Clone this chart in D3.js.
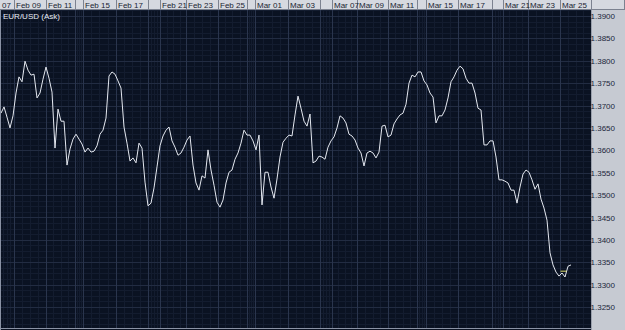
<!DOCTYPE html>
<html>
<head>
<meta charset="utf-8">
<script src="https://cdn.jsdelivr.net/npm/d3@7"></script>
<style>
  html, body { margin: 0; padding: 0; background: #0a1222; }
  svg { display: block; }
</style>
</head>
<body>
<div id="chart"></div>
<script>
// EUR/USD (Ask), one value per bar
const askPrices = [
	1.3683, 1.3697, 1.3674, 1.3650, 1.3677, 1.3728, 1.3764, 1.3753, 1.3799, 1.3779,
	1.3768, 1.3770, 1.3717, 1.3728, 1.3759, 1.3786, 1.3761, 1.3730, 1.3605, 1.3692,
	1.3665, 1.3665, 1.3567, 1.3603, 1.3625, 1.3636, 1.3625, 1.3614, 1.3596, 1.3605,
	1.3596, 1.3598, 1.3610, 1.3636, 1.3645, 1.3672, 1.3766, 1.3775, 1.3770, 1.3755,
	1.3739, 1.3652, 1.3616, 1.3576, 1.3583, 1.3572, 1.3616, 1.3605, 1.3529, 1.3476,
	1.3482, 1.3516, 1.3563, 1.3610, 1.3632, 1.3645, 1.3652, 1.3621, 1.3607, 1.3589,
	1.3594, 1.3607, 1.3623, 1.3632, 1.3567, 1.3527, 1.3511, 1.3543, 1.3538, 1.3601,
	1.3556, 1.3522, 1.3484, 1.3473, 1.3489, 1.3527, 1.3551, 1.3556, 1.3580, 1.3594,
	1.3616, 1.3645, 1.3634, 1.3634, 1.3621, 1.3601, 1.3634, 1.3478, 1.3551, 1.3551,
	1.3518, 1.3493, 1.3536, 1.3585, 1.3618, 1.3627, 1.3634, 1.3632, 1.3679, 1.3721,
	1.3694, 1.3665, 1.3654, 1.3681, 1.3572, 1.3576, 1.3587, 1.3585, 1.3580, 1.3607,
	1.3621, 1.3630, 1.3650, 1.3677, 1.3672, 1.3661, 1.3636, 1.3632, 1.3623, 1.3605,
	1.3594, 1.3565, 1.3594, 1.3598, 1.3594, 1.3583, 1.3596, 1.3654, 1.3656, 1.3630,
	1.3634, 1.3659, 1.3670, 1.3679, 1.3683, 1.3703, 1.3750, 1.3768, 1.3764, 1.3775,
	1.3775, 1.3755, 1.3746, 1.3728, 1.3719, 1.3661, 1.3677, 1.3677, 1.3690, 1.3717,
	1.3753, 1.3764, 1.3779, 1.3788, 1.3782, 1.3761, 1.3750, 1.3750, 1.3728, 1.3694,
	1.3690, 1.3612, 1.3612, 1.3621, 1.3621, 1.3585, 1.3534, 1.3534, 1.3531, 1.3527,
	1.3511, 1.3511, 1.3482, 1.3518, 1.3547, 1.3556, 1.3551, 1.3534, 1.3513, 1.3525,
	1.3491, 1.3471, 1.3444, 1.3371, 1.3344, 1.3328, 1.3319, 1.3326, 1.3317, 1.3341,
	1.3344
];

// date header cells: label and the bar index where the cell starts
const dayLabels = ["07", "Feb 09", "Feb 11", "", "Feb 15", "Feb 17", "", "Feb 21", "Feb 23", "Feb 25",
	"", "Mar 01", "Mar 03", "", "Mar 07", "Mar 09", "Mar 11", "", "Mar 15", "Mar 17", "",
	"Mar 21", "Mar 23", "Mar 25"];
const dayStarts = [-0.4, 4.3, 15, 24.7, 27.3, 38.3, 49, 53, 61.7, 72.3,
	82, 84.7, 95.7, 106.3, 110.3, 118.7, 129, 138.7, 141.7, 152.3, 163.7,
	167.3, 175.7, 186.3];
const lastBarEdge = 196.7;

const priceTicks = [1.3900, 1.3850, 1.3800, 1.3750, 1.3700, 1.3650, 1.3600,
	1.3550, 1.3500, 1.3450, 1.3400, 1.3350, 1.3300, 1.3250];
const bidMarker = { from: 186.5, to: 188.5, price: 1.3330 };

const width = 625;
const height = 330;
const headerH = 10;
const plot = { left: 1, right: 591, top: headerH, bottom: 328 };

const colors = {
	bg: "#0a1222",
	minorGrid: "#131c2f",
	majorGrid: "#222c42",
	dayGrid: "#2a354d",
	line: "#e4e8f0",
	header: "#d6d9e0",
	headerBorder: "#7c8290",
	headerText: "#1a1f33",
	axisPanel: "#c6cad2",
	axisText: "#20263a",
	marker: "#e0e070"
};

const svg = d3.select("#chart")
	.append("svg")
	.attr("width", width)
	.attr("height", height)
	.style("font-family", "'Liberation Sans', Arial, sans-serif");

const x = d3.scaleLinear()
	.domain([0, askPrices.length - 1])
	.range([1, 571]);
const y = d3.scaleLinear()
	.domain([1.325, 1.39])
	.range([307, 16]);

// plot background
svg.append("rect")
	.attr("x", 0).attr("y", 0)
	.attr("width", width).attr("height", height)
	.attr("fill", colors.bg);

svg.append("clipPath").attr("id", "plotClip")
	.append("rect")
	.attr("x", plot.left).attr("y", plot.top)
	.attr("width", plot.right - plot.left).attr("height", plot.bottom - plot.top);

const grid = svg.append("g").attr("clip-path", "url(#plotClip)");

// minor horizontal grid
const minorPrices = d3.range(1.3200, 1.3960, 0.00125);
grid.append("g")
	.selectAll("line")
	.data(minorPrices)
	.enter()
	.append("line")
	.attr("x1", plot.left).attr("x2", plot.right)
	.attr("y1", (d) => Math.round(y(d)) + 0.5)
	.attr("y2", (d) => Math.round(y(d)) + 0.5)
	.attr("stroke", colors.minorGrid)
	.attr("stroke-width", 1);

// minor vertical grid: four per day cell
const cellEdges = dayStarts.concat([lastBarEdge]);
const minorX = [];
for (let i = 0; i < cellEdges.length - 1; i++) {
	const a = cellEdges[i], b = cellEdges[i + 1];
	for (let k = 1; k < 4; k++) minorX.push(a + (b - a) * k / 4);
}
grid.append("g")
	.selectAll("line")
	.data(minorX)
	.enter()
	.append("line")
	.attr("x1", (d) => Math.round(x(d)) + 0.5)
	.attr("x2", (d) => Math.round(x(d)) + 0.5)
	.attr("y1", plot.top).attr("y2", plot.bottom)
	.attr("stroke", colors.minorGrid)
	.attr("stroke-width", 1);

// major horizontal grid at labelled prices
grid.append("g")
	.selectAll("line")
	.data(priceTicks)
	.enter()
	.append("line")
	.attr("x1", plot.left).attr("x2", plot.right)
	.attr("y1", (d) => Math.round(y(d)) + 0.5)
	.attr("y2", (d) => Math.round(y(d)) + 0.5)
	.attr("stroke", colors.majorGrid)
	.attr("stroke-width", 1);

// day boundaries
grid.append("g")
	.selectAll("line")
	.data(dayStarts.slice(1))
	.enter()
	.append("line")
	.attr("x1", (d) => Math.round(x(d)) + 0.5)
	.attr("x2", (d) => Math.round(x(d)) + 0.5)
	.attr("y1", plot.top).attr("y2", plot.bottom)
	.attr("stroke", colors.dayGrid)
	.attr("stroke-width", 1);

// price line
const line = d3.line()
	.x((d, i) => x(i))
	.y((d) => y(d));

svg.append("path")
	.datum(askPrices)
	.attr("d", line)
	.attr("fill", "none")
	.attr("stroke", colors.line)
	.attr("stroke-width", 1)
	.attr("clip-path", "url(#plotClip)");

svg.append("line")
	.attr("x1", x(bidMarker.from)).attr("x2", x(bidMarker.to))
	.attr("y1", y(bidMarker.price)).attr("y2", y(bidMarker.price))
	.attr("stroke", colors.marker)
	.attr("stroke-width", 1);

// symbol title
svg.append("text")
	.attr("x", 3).attr("y", 19)
	.attr("fill", "#e8ecf4")
	.style("font-size", "8px")
	.text("EUR/USD (Ask)");

// plot frame
svg.append("line")
	.attr("x1", 0.5).attr("x2", 0.5).attr("y1", plot.top).attr("y2", height)
	.attr("stroke", "#8a92a4");
svg.append("line")
	.attr("x1", 0).attr("x2", plot.right).attr("y1", plot.bottom + 0.5).attr("y2", plot.bottom + 0.5)
	.attr("stroke", "#8a92a4");

// price axis panel
svg.append("rect")
	.attr("x", plot.right).attr("y", headerH)
	.attr("width", width - plot.right).attr("height", height - headerH)
	.attr("fill", colors.axisPanel);
svg.append("line")
	.attr("x1", plot.right + 0.5).attr("x2", plot.right + 0.5)
	.attr("y1", headerH).attr("y2", height)
	.attr("stroke", "#9aa0ac");

const yAxis = d3.axisRight(y)
	.tickValues(priceTicks)
	.tickFormat(d3.format(".4f"))
	.tickSize(0)
	.tickPadding(0);

const yAxisG = svg.append("g")
	.attr("transform", `translate(${width - 10}, 0)`)
	.call(yAxis);
yAxisG.select(".domain").remove();
yAxisG.selectAll("text")
	.attr("text-anchor", "end")
	.attr("fill", colors.axisText)
	.style("font-size", "8px")
	.style("font-family", "'Liberation Sans', Arial, sans-serif");

// date header
const header = svg.append("g");
header.append("rect")
	.attr("x", 0).attr("y", 0)
	.attr("width", width).attr("height", headerH)
	.attr("fill", colors.header);

const cells = dayLabels.map((label, i) => ({
	label: label,
	start: i === 0 ? 0 : Math.round(x(dayStarts[i])),
	end: Math.round(x(i + 1 < dayStarts.length ? dayStarts[i + 1] : lastBarEdge))
}));

header.selectAll("line.sep")
	.data(cells.map((c) => c.end).concat([width - 1]))
	.enter()
	.append("line")
	.attr("class", "sep")
	.attr("x1", (d) => d + 0.5).attr("x2", (d) => d + 0.5)
	.attr("y1", 0).attr("y2", headerH)
	.attr("stroke", colors.headerBorder);

header.append("line")
	.attr("x1", 0).attr("x2", width)
	.attr("y1", headerH - 0.5).attr("y2", headerH - 0.5)
	.attr("stroke", colors.headerBorder);

header.selectAll("text")
	.data(cells)
	.enter()
	.append("text")
	.attr("x", (d) => d.start + 2)
	.attr("y", 8)
	.attr("fill", colors.headerText)
	.style("font-size", "8px")
	.text((d) => d.label);
</script>
</body>
</html>
